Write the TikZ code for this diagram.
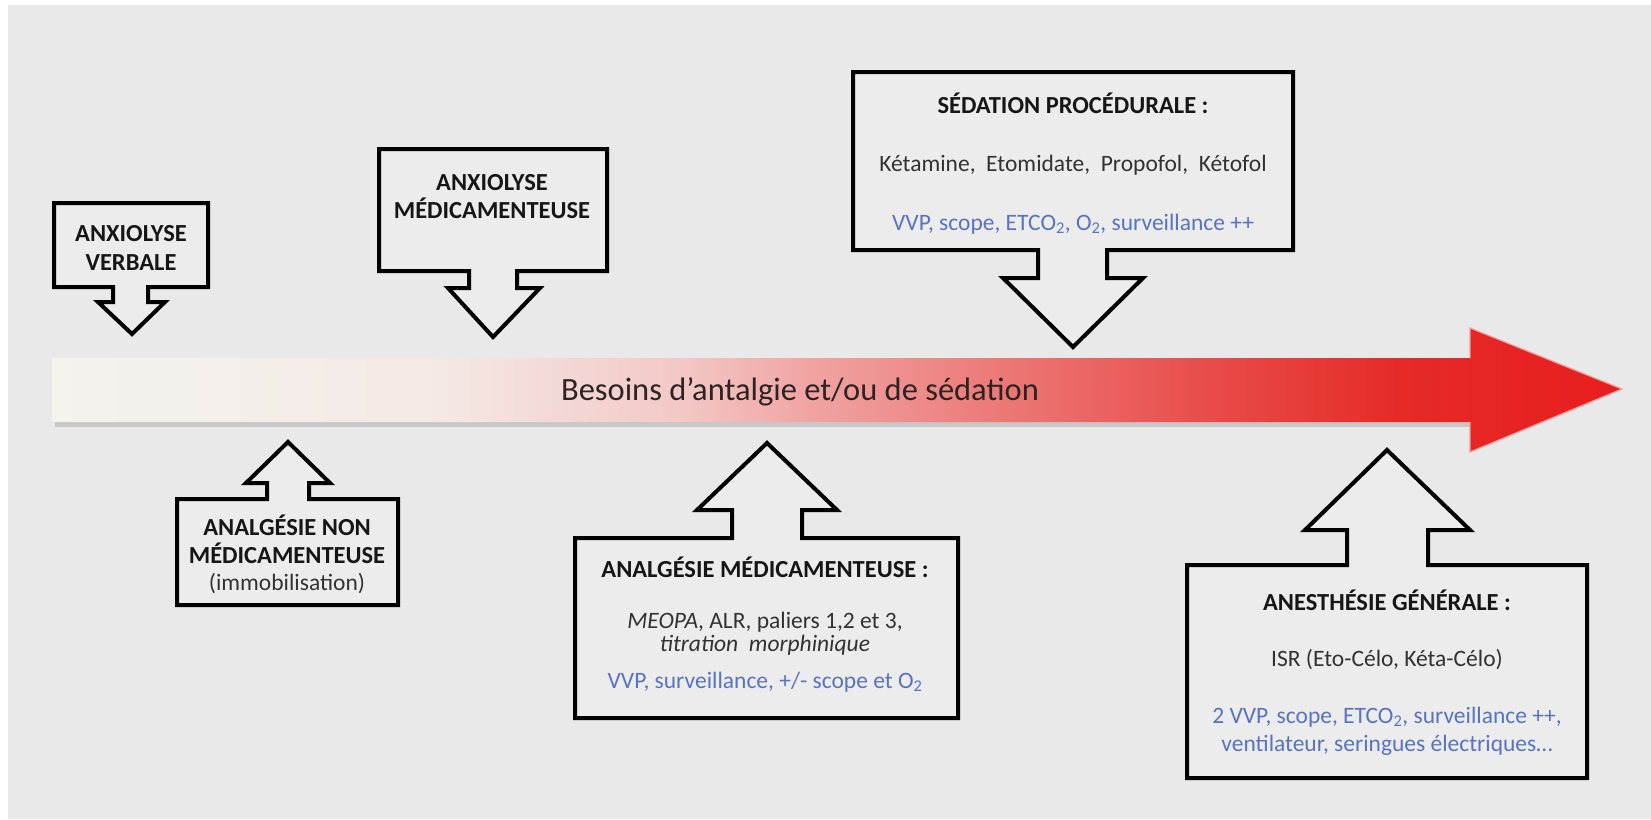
\documentclass[tikz,border=0pt]{standalone}
\usepackage{fontspec}
\setmainfont{Carlito}
\definecolor{bg}{RGB}{233,233,233}
\definecolor{boxfill}{RGB}{236,236,236}
\definecolor{titlec}{RGB}{22,22,22}
\definecolor{bodyc}{RGB}{50,50,50}
\definecolor{bluec}{RGB}{88,116,190}
\definecolor{mainc}{RGB}{45,35,35}
\definecolor{glow}{RGB}{245,160,160}
\definecolor{a0}{RGB}{244,243,238}
\definecolor{a1}{RGB}{244,234,230}
\definecolor{a2}{RGB}{243,200,198}
\definecolor{a3}{RGB}{240,165,163}
\definecolor{a4}{RGB}{236,122,120}
\definecolor{a5}{RGB}{232,75,72}
\definecolor{a6}{RGB}{229,42,40}
\definecolor{a7}{RGB}{232,30,30}
\pgfdeclarehorizontalshading{arrowshade}{100bp}{color(0bp)=(a0); color(25bp)=(a0); color(37bp)=(a1); color(45bp)=(a2); color(49bp)=(a3); color(55bp)=(a4); color(62bp)=(a5); color(68bp)=(a6); color(75bp)=(a7); color(100bp)=(a7)}
\tikzset{
  callout/.style={draw=black, line width=4pt, fill=boxfill, line join=miter},
  ttl/.style={font=\bfseries\fontsize{24.5}{28}\selectfont, text=titlec, inner sep=0pt, anchor=base},
  bdy/.style={font=\fontsize{23.5}{27}\selectfont, text=bodyc, inner sep=0pt, anchor=base},
  blu/.style={font=\fontsize{23.5}{27}\selectfont, text=bluec, inner sep=0pt, anchor=base},
}
\begin{document}
\begin{tikzpicture}[x=1pt,y=-1pt]
\useasboundingbox (0,0) rectangle (1651,819);
\fill[white] (0,0) rectangle (1651,819);
\fill[bg] (8,5) rectangle (1651,819);

% main arrow
\fill[black!22] (55,421) rectangle (1470,427);
\path[shading=arrowshade] (52,358) -- (1470,358) -- (1470,328) -- (1622,389) -- (1470,452) -- (1470,422) -- (52,422) -- cycle;
\draw[glow, line width=1.2pt] (1470,358) -- (1470,328) -- (1622,389) -- (1470,452) -- (1470,422);
\node[font=\fontsize{32.5}{38}\selectfont, text=mainc, inner sep=0pt, anchor=base] (mainlbl) at (800,400) {Besoins d’antalgie et/ou de sédation};

% box 1: anxiolyse verbale
\draw[callout] (54,203) -- (208,203) -- (208,287) -- (148,287) -- (148,302) -- (165,302) -- (132,334) -- (98,302) -- (113,302) -- (113,287) -- (54,287) -- cycle;
\node[ttl] (b1a) at (131,241) {ANXIOLYSE};
\node[ttl] (b1b) at (131,270) {VERBALE};

% box 2: anxiolyse medicamenteuse
\draw[callout] (379,149) -- (607,149) -- (607,271) -- (517,271) -- (517,288) -- (540,288) -- (493,337) -- (448,288) -- (469,288) -- (469,271) -- (379,271) -- cycle;
\node[ttl] (b2a) at (492,190) {ANXIOLYSE};
\node[ttl] (b2b) at (492,218) {MÉDICAMENTEUSE};

% box 3: sedation procedurale
\draw[callout] (853,72) -- (1293,72) -- (1293,250) -- (1107,250) -- (1107,278) -- (1143,278) -- (1073,347) -- (1003,278) -- (1038,278) -- (1038,250) -- (853,250) -- cycle;
\node[ttl] (b3a) at (1073,113) {SÉDATION PROCÉDURALE :};
\node[bdy] (b3b) at (1073,171) {Kétamine,\ \ Etomidate,\ \ Propofol,\ \ Kétofol};
\node[blu] (b3c) at (1073,230) {VVP, scope, ETCO\textsubscript{2}, O\textsubscript{2}, surveillance ++};

% box 4: analgesie non medicamenteuse
\draw[callout] (177,605) -- (177,499) -- (267,499) -- (267,483) -- (246,483) -- (288,442) -- (330,483) -- (309,483) -- (309,499) -- (398,499) -- (398,605) -- cycle;
\node[ttl] (b4a) at (287,535) {ANALGÉSIE NON};
\node[ttl] (b4b) at (287,563) {MÉDICAMENTEUSE};
\node[bdy] (b4c) at (287,590) {(immobilisation)};

% box 5: analgesie medicamenteuse
\draw[callout] (575,718) -- (575,538) -- (732,538) -- (732,510) -- (697,510) -- (767,443) -- (837,510) -- (802,510) -- (802,538) -- (958,538) -- (958,718) -- cycle;
\node[ttl] (b5a) at (765,577) {ANALGÉSIE MÉDICAMENTEUSE :};
\node[bdy] (b5b) at (765,628) {\textit{MEOPA}, ALR, paliers 1,2 et 3,};
\node[bdy] (b5c) at (765,651) {\textit{titration\ \ morphinique}};
\node[blu] (b5d) at (765,688) {VVP, surveillance, +/- scope et O\textsubscript{2}};

% box 6: anesthesie generale
\draw[callout] (1187,778) -- (1187,565) -- (1347,565) -- (1347,530) -- (1305,530) -- (1387,450) -- (1470,530) -- (1428,530) -- (1428,565) -- (1587,565) -- (1587,778) -- cycle;
\node[ttl] (b6a) at (1387,610) {ANESTHÉSIE GÉNÉRALE :};
\node[bdy] (b6b) at (1387,666) {ISR (Eto-Célo, Kéta-Célo)};
\node[blu] (b6c) at (1387,723) {2 VVP, scope, ETCO\textsubscript{2}, surveillance ++,};
\node[blu] (b6d) at (1387,751) {ventilateur, seringues électriques…};
\end{tikzpicture}
\end{document}
